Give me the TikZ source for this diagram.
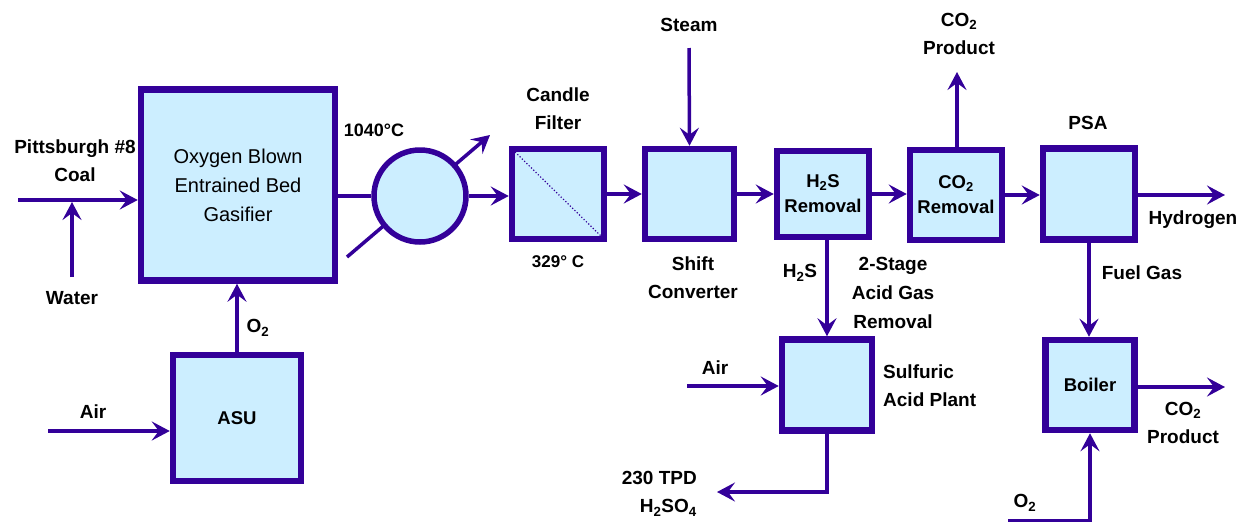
\documentclass[tikz,border=0pt]{standalone}
\usepackage{fontspec}
\setmainfont{Liberation Sans}
\usetikzlibrary{arrows.meta}
\definecolor{ink}{HTML}{330099}
\definecolor{boxfill}{HTML}{CCEEFF}
\begin{document}
\begin{tikzpicture}[x=1pt,y=-1pt,
  unit/.style={draw=ink, fill=boxfill, line width=6.5pt, inner sep=0pt,
    font=\fontsize{18.5}{25}\selectfont\bfseries, align=center, text=black},
  flow/.style={draw=ink, line width=3.5pt, -{Stealth[length=18pt,width=19pt,inset=7pt]}},
  pipe/.style={draw=ink, line width=3.5pt},
  lbl/.style={font=\fontsize{19}{28}\selectfont\bfseries, align=center, inner sep=0pt, text=black}]
\useasboundingbox (0,0) rectangle (1254,523);
\fill[white] (0,0) rectangle (1254,523);

% boxes
\node[unit, minimum width=194pt, minimum height=191pt,
  font=\fontsize{20}{29}\selectfont] (gas) at (238,185) {Oxygen Blown\\Entrained Bed\\Gasifier};
\node[unit, minimum width=128pt, minimum height=126pt] (asu) at (237,418) {ASU};
\node[unit, minimum width=92pt, minimum height=90pt] (fil) at (558,194) {};
\node[unit, minimum width=89pt, minimum height=90pt] (shift) at (689.5,194) {};
\node[unit, minimum width=92pt, minimum height=86pt] (h2s) at (823,194) {H\textsubscript{2}S\\Removal};
\node[unit, minimum width=92pt, minimum height=90pt] (co2) at (956,195) {CO\textsubscript{2}\\Removal};
\node[unit, minimum width=92pt, minimum height=91pt] (psa) at (1089,194) {};
\node[unit, minimum width=89pt, minimum height=90pt] (boil) at (1090,385) {Boiler};
\node[unit, minimum width=90pt, minimum height=91pt] (sulf) at (827,385) {};
\draw[ink, line width=1.2pt, dotted] ([shift={(4pt,-4pt)}]fil.north west) -- ([shift={(-4pt,4pt)}]fil.south east);

% heat exchanger
\coordinate (hxa) at (347,257);
\coordinate (hxb) at (490,135);
\draw[flow] (hxa) -- (hxb);
\node[draw=ink, fill=boxfill, line width=5.5pt, circle, minimum size=92pt, inner sep=0pt] (hx) at (420,196) {};

% free ends
\coordinate (coal) at (18,200);
\coordinate (water) at (72,277);
\coordinate (air1) at (48,431);
\coordinate (steam) at (689,48);
\coordinate (co2top) at (957,72);
\coordinate (h2) at (1225,195);
\coordinate (bco2) at (1225,387);
\coordinate (o2b) at (1008,520.5);
\coordinate (air2) at (687,386);
\coordinate (acid) at (717,492);

% connectors
\draw[flow] (coal) -- (gas.west |- coal);
\draw[flow] (water) -- ([yshift=-2pt]water |- coal);
\draw[flow] (asu.north) -- (asu.north |- gas.south);
\draw[flow] (air1) -- (air1 -| asu.west);
\draw[pipe] (gas.east |- hx) -- (hx.west);
\draw[flow] (hx.east) -- (hx.east -| fil.west);
\draw[flow] (fil.east) -- (shift.west);
\draw[flow] (steam) -- (shift.north);
\draw[flow] (shift.east) -- (shift.east -| h2s.west);
\draw[flow] (h2s.east) -- (h2s.east -| co2.west);
\draw[flow] (co2.north -| co2top) -- (co2top);
\draw[flow] (co2.east) -- (co2.east -| psa.west);
\draw[flow] (psa.east |- h2) -- (h2);
\draw[flow] (psa.south) -- (psa.south |- boil.north);
\draw[flow] (boil.east |- bco2) -- (bco2);
\draw[flow] (o2b) -| (boil.south);
\draw[flow] (sulf.north |- h2s.south) -- (sulf.north);
\draw[flow] (air2) -- (air2 -| sulf.west);
\draw[flow] (sulf.south) |- (acid);

% labels
\node[lbl] (lcoal) at (75,161) {Pittsburgh \#8\\Coal};
\node[lbl] (lwater) at (72,298) {Water};
\node[lbl] (lo2a) at (258,328) {O\textsubscript{2}};
\node[lbl] (lair1) at (93,412) {Air};
\node[lbl, font=\fontsize{18}{22}\selectfont\bfseries] (lt1) at (374,130) {1040°C};
\node[lbl] (lcand) at (558,109) {Candle\\Filter};
\node[lbl, font=\fontsize{17}{22}\selectfont\bfseries] (lt2) at (558,262) {329° C};
\node[lbl] (lsteam) at (689,25) {Steam};
\node[lbl] (lshift) at (693,278) {Shift\\Converter};
\node[lbl] (lh2s) at (800,273) {H\textsubscript{2}S};
\node[lbl, font=\fontsize{19}{29}\selectfont\bfseries] (lagr) at (893,293) {2-Stage\\Acid Gas\\Removal};
\node[lbl] (lco2a) at (959,34) {CO\textsubscript{2}\\Product};
\node[lbl] (lpsa) at (1088,123) {PSA};
\node[lbl] (lh2) at (1193,220) {Hydrogen};
\node[lbl] (lfuel) at (1142,273) {Fuel Gas};
\node[lbl, align=left, anchor=west] (lsulf) at (883,386) {Sulfuric\\Acid Plant};
\node[lbl] (lair2) at (715,368) {Air};
\node[lbl, align=right, anchor=east] (lacid) at (697,494) {230 TPD\\H\textsubscript{2}SO\textsubscript{4}};
\node[lbl] (lco2b) at (1183,423) {CO\textsubscript{2}\\Product};
\node[lbl] (lo2b) at (1025,503) {O\textsubscript{2}};
\end{tikzpicture}
\end{document}
